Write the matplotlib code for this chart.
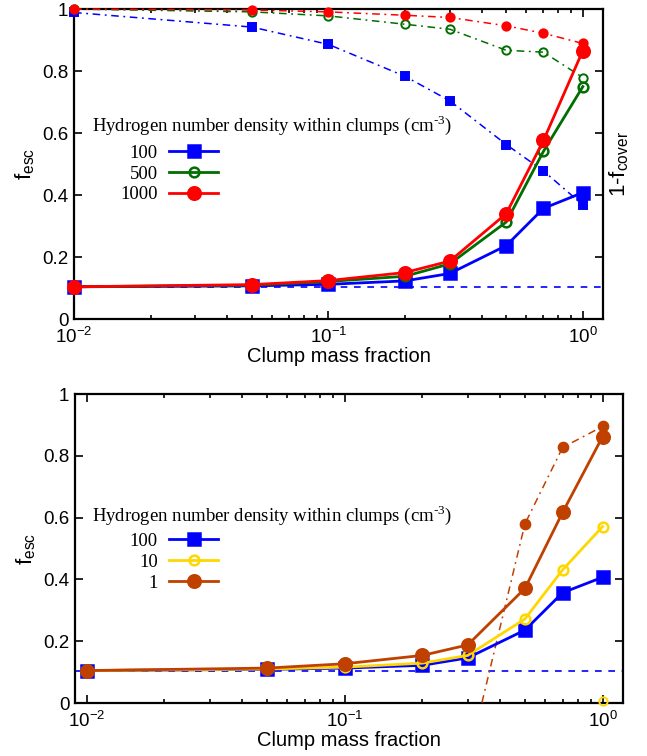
import numpy as np
import matplotlib
matplotlib.use('Agg')
import matplotlib.pyplot as plt
from matplotlib.ticker import FuncFormatter, LogLocator, NullFormatter

plt.rcParams['font.family'] = ['Liberation Sans', 'DejaVu Sans']
plt.rcParams['mathtext.fontset'] = 'custom'
plt.rcParams['mathtext.rm'] = 'Liberation Sans'
plt.rcParams['mathtext.it'] = 'Liberation Sans'
plt.rcParams['mathtext.bf'] = 'Liberation Sans:bold'

# clump mass fraction
mass_frac = [0.01, 0.05, 0.1, 0.2, 0.3, 0.5, 0.7, 1.0]

# top panel: f_esc (solid) and 1 - f_cover (dash-dot)
top_labels = ['100', '500', '1000']
fesc_100 = [0.104, 0.107, 0.112, 0.123, 0.147, 0.237, 0.357, 0.408]
fesc_500 = [0.104, 0.109, 0.121, 0.138, 0.178, 0.313, 0.541, 0.750]
fesc_1000 = [0.104, 0.111, 0.124, 0.150, 0.187, 0.340, 0.576, 0.866]
cover_100 = [0.989, 0.942, 0.886, 0.783, 0.704, 0.563, 0.478, 0.368]
cover_500 = [1.000, 0.991, 0.978, 0.951, 0.935, 0.867, 0.861, 0.779]
cover_1000 = [1.000, 0.997, 0.991, 0.980, 0.973, 0.946, 0.922, 0.889]
fesc_floor_top = 0.104

# bottom panel
bot_labels = ['100', '10', '1']
bfesc_100 = [0.105, 0.109, 0.113, 0.122, 0.146, 0.236, 0.357, 0.407]
bfesc_10 = [0.105, 0.110, 0.116, 0.129, 0.154, 0.272, 0.431, 0.571]
bfesc_1 = [0.105, 0.113, 0.127, 0.154, 0.188, 0.371, 0.617, 0.862]
bcover_1_x = [0.3, 0.5, 0.7, 1.0]
bcover_1 = [-0.19, 0.580, 0.827, 0.895]
bcover_10_x = [1.0]
bcover_10 = [0.005]
fesc_floor_bot = 0.105

BLUE = '#0000ff'
GREEN = '#006e00'
RED = '#ff0000'
YELLOW = '#ffd700'
BROWN = '#c04000'
DASHDOT = (0, (5, 3, 1.2, 3))
KEY_TITLE = r'Hydrogen number density within clumps (cm$^{\mathregular{\text{-}3}}$)'

fig = plt.figure(figsize=(6.47, 7.56), dpi=100)
ax1 = fig.add_axes([0.1144, 0.578, 0.8176, 0.410])
ax2 = fig.add_axes([0.1159, 0.0701, 0.847, 0.4087])


def style_axis(ax, xlim):
    ax.set_xscale('log')
    ax.set_xlim(*xlim)
    ax.set_ylim(0, 1)
    ax.set_yticks([0, 0.2, 0.4, 0.6, 0.8, 1.0])
    ax.yaxis.set_major_formatter(FuncFormatter(lambda v, p: f'{v:g}'))
    ax.xaxis.set_major_locator(LogLocator(base=10, numticks=10))
    ax.xaxis.set_minor_locator(LogLocator(base=10, subs=np.arange(2, 10), numticks=20))
    ax.xaxis.set_minor_formatter(NullFormatter())
    ax.tick_params(which='both', direction='in', top=True, right=True,
                   labelsize=13.5, width=1.2, pad=4)
    ax.tick_params(axis='x', pad=6)
    ax.tick_params(which='major', length=6)
    ax.tick_params(which='minor', length=3)
    for s in ax.spines.values():
        s.set_linewidth(1.6)
    ax.set_xlabel('Clump mass fraction', fontsize=14.5, labelpad=0)
    ax.set_ylabel(r'$\mathregular{f_{esc}}$', fontsize=16, labelpad=4)


def solid(ax, y, color, marker, ms, label, mfc=None):
    ax.plot(mass_frac, y, color=color, lw=2, marker=marker, ms=ms,
            mfc=mfc if mfc else color, mew=1.8, label=label, clip_on=False, zorder=4)


def dashdot(ax, x, y, color, marker, ms, mfc=None, clip=False):
    ax.plot(x, y, color=color, lw=1.1, ls=DASHDOT, marker=marker, ms=ms,
            mfc=mfc if mfc else color, mew=1.4, clip_on=clip, zorder=3)


def key(ax, tx, ty, lx, ly):
    ax.text(tx, ty, KEY_TITLE, transform=ax.transAxes,
            family='Liberation Serif', fontsize=13.5, va='center')
    h, l = ax.get_legend_handles_labels()
    ax.legend(h, l, loc='center right', bbox_to_anchor=(lx, ly),
              frameon=False, markerfirst=False, borderpad=0, borderaxespad=0,
              labelspacing=0.2, handlelength=2.6, handletextpad=0.6,
              prop={'family': 'Liberation Serif', 'size': 13.5})


# ---- top panel
style_axis(ax1, (0.01, 1.2))
ax1.axhline(fesc_floor_top, color=BLUE, lw=1.2, ls=(0, (4, 4)), zorder=2)
dashdot(ax1, mass_frac, cover_100, BLUE, 's', 6)
dashdot(ax1, mass_frac, cover_500, GREEN, 'o', 6, mfc='none')
dashdot(ax1, mass_frac, cover_1000, RED, 'o', 6)
solid(ax1, fesc_100, BLUE, 's', 9, top_labels[0])
solid(ax1, fesc_500, GREEN, 'o', 7, top_labels[1], mfc='none')
solid(ax1, fesc_1000, RED, 'o', 9, top_labels[2])

rax = ax1.twinx()
rax.set_ylim(0, 1)
rax.set_yticks([0, 0.2, 0.4, 0.6, 0.8, 1.0])
rax.tick_params(direction='in', length=6, width=1.2, labelright=False)
rax.set_ylabel(r'$\mathregular{1\text{-}f_{cover}}$', fontsize=16, labelpad=3)
for s in rax.spines.values():
    s.set_visible(False)

key(ax1, 0.034, 0.626, 0.272, 0.468)

# ---- bottom panel
style_axis(ax2, (0.009, 1.2))
ax2.axhline(fesc_floor_bot, color=BLUE, lw=1.2, ls=(0, (4, 4)), zorder=2)
dashdot(ax2, bcover_1_x, bcover_1, BROWN, 'o', 7, clip=True)
dashdot(ax2, bcover_10_x, bcover_10, YELLOW, 'o', 6, mfc='none')
solid(ax2, bfesc_100, BLUE, 's', 9, bot_labels[0])
solid(ax2, bfesc_10, YELLOW, 'o', 7, bot_labels[1], mfc='none')
solid(ax2, bfesc_1, BROWN, 'o', 9, bot_labels[2])

key(ax2, 0.031, 0.608, 0.261, 0.456)

fig.savefig('out.png', dpi=100)
